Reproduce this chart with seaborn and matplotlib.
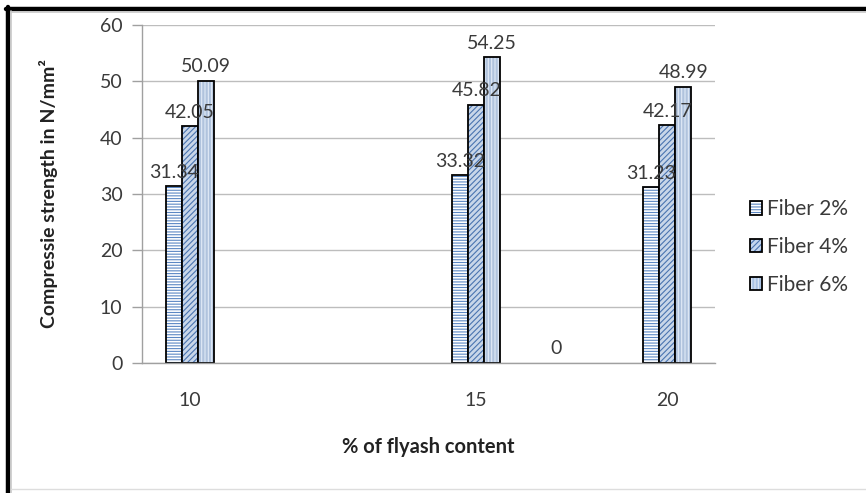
import numpy as np
import pandas as pd
import matplotlib
matplotlib.use("Agg")
import matplotlib.pyplot as plt
from matplotlib.lines import Line2D
from matplotlib.patches import Patch
import seaborn as sns

# ---- data ----
categories = ["10", " ", "  ", "15", "   ", "20"]
series = ["Fiber 2%", "Fiber 4%", "Fiber 6%"]
fiber2 = [31.34, np.nan, np.nan, 33.32, 0, 31.23]
fiber4 = [42.05, np.nan, np.nan, 45.82, np.nan, 42.17]
fiber6 = [50.09, np.nan, np.nan, 54.25, np.nan, 48.99]
y_ticks = [0, 10, 20, 30, 40, 50, 60]

rows = []
for name, vals in zip(series, [fiber2, fiber4, fiber6]):
    for c, v in zip(categories, vals):
        rows.append({"content": c, "fiber": name, "strength": v})
df = pd.DataFrame(rows).dropna()

sns.set_theme(style="white")
plt.rcParams["font.family"] = ["Lato", "DejaVu Sans"]
plt.rcParams["hatch.linewidth"] = 0.8

fills = {"Fiber 2%": "#FFFFFF", "Fiber 4%": "#C3D5EE", "Fiber 6%": "#A9C2E4"}
hatch_cols = {"Fiber 2%": "#5B87C4", "Fiber 4%": "#4A74B0", "Fiber 6%": "#E2EBF7"}
hatches = {"Fiber 2%": "------", "Fiber 4%": "//////", "Fiber 6%": "|||||"}
txt = "#3A3A3A"

fig = plt.figure(figsize=(8.66, 4.93), dpi=100)
ax = fig.add_axes([142 / 866, 1 - 363 / 493, (715 - 142) / 866, (363 - 25) / 493])

sns.barplot(data=df, x="content", y="strength", hue="fiber",
            order=categories, hue_order=series, palette=fills,
            width=0.5, edgecolor="black", linewidth=1.3, ax=ax,
            legend=False, errorbar=None)

def style_patch(p, name):
    p.set_hatch(hatches[name])
    p.set_edgecolor("black")
    if hasattr(p, "set_hatchcolor"):
        p.set_hatchcolor(hatch_cols[name])
    else:
        p._hatch_color = matplotlib.colors.to_rgba(hatch_cols[name])

for cont, name in zip(ax.containers, series):
    for p, v in zip(cont, cont.datavalues):
        style_patch(p, name)
        if v == 0:
            p.set_visible(False)
    ax.bar_label(cont, labels=[f"{v:g}" for v in cont.datavalues],
                 padding=4, fontsize=14, color=txt)

ax.set_ylim(0, 60)
ax.set_yticks(y_ticks)
ax.set_xlim(-0.5, len(categories) - 0.5)
ax.yaxis.grid(True, color="#BDBDBD", linewidth=1)
ax.set_axisbelow(True)
for s in ["top", "right"]:
    ax.spines[s].set_visible(False)
for s in ["left", "bottom"]:
    ax.spines[s].set_color("#A0A0A0")
    ax.spines[s].set_linewidth(1)
ax.tick_params(axis="y", length=7, width=1, color="#A0A0A0", pad=7,
               labelsize=14, labelcolor=txt, left=True)
ax.tick_params(axis="x", length=0, pad=21, labelsize=14, labelcolor=txt)

ax.set_xlabel("% of flyash content", fontsize=14.5, fontweight="bold",
              color="#222222", labelpad=20)
ax.set_ylabel("Compressie strength in N/mm²", fontsize=14, fontweight="bold",
              color="#222222", labelpad=30)

handles = []
for name in series:
    h = Patch(facecolor=fills[name], edgecolor="black", hatch=hatches[name],
              linewidth=1.3, label=name)
    style_patch(h, name)
    handles.append(h)
leg = fig.legend(handles=handles, loc="center left",
                 bbox_to_anchor=(731 / 866, 1 - 247 / 493), frameon=False,
                 fontsize=15, handlelength=0.6, handleheight=0.6,
                 handletextpad=0.25, labelspacing=0.85)
for t in leg.get_texts():
    t.set_color(txt)

# outer frame like the source picture
fig.add_artist(Line2D([6 / 866, 1], [1 - 9 / 493, 1 - 9 / 493],
                      transform=fig.transFigure, color="black", linewidth=3.2))
fig.add_artist(Line2D([8 / 866, 8 / 866], [0, 1 - 7 / 493],
                      transform=fig.transFigure, color="black", linewidth=3.2))
fig.add_artist(Line2D([11 / 866, 11 / 866], [0, 1 - 11 / 493],
                      transform=fig.transFigure, color="#C8C8C8", linewidth=1.2))
fig.add_artist(Line2D([11 / 866, 1], [1 - 12 / 493, 1 - 12 / 493],
                      transform=fig.transFigure, color="#C8C8C8", linewidth=1.2))
fig.add_artist(Line2D([11 / 866, 1], [4 / 493, 4 / 493],
                      transform=fig.transFigure, color="#DDDDDD", linewidth=1))

fig.savefig("out.png", dpi=100)
